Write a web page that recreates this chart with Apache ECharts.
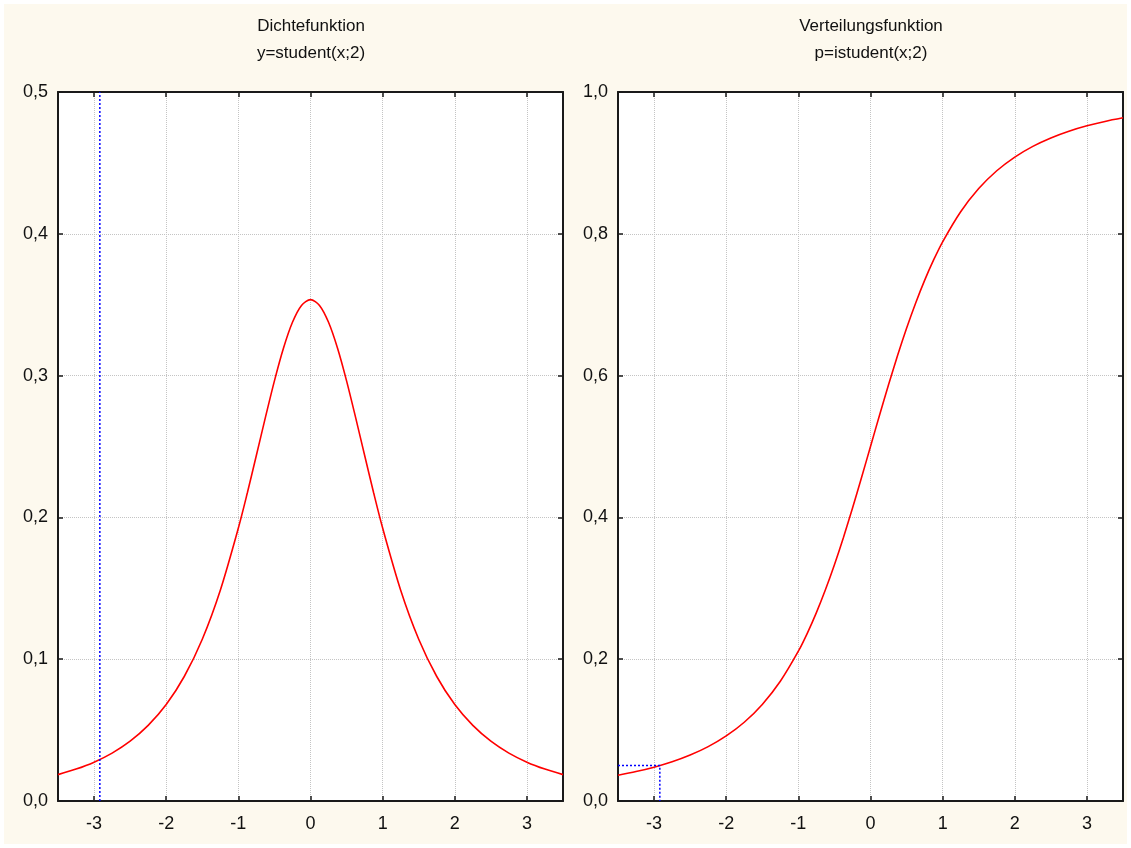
<!DOCTYPE html>
<html>
<head>
<meta charset="utf-8">
<script src="https://cdn.jsdelivr.net/npm/echarts@6/dist/echarts.min.js"></script>
<style>
  /* Seite */
  body { margin: 0; background: #fff; }
  #frame { position: absolute; left: 4px; top: 4px; width: 1123px; height: 840px; background: #fdf9ee; }
  #chart { position: absolute; left: 0; top: 0; width: 1131px; height: 848px; }
</style>
</head>
<body>
<div id="frame"></div>
<div id="chart"></div>
<script>
// x-Werte
var xValues = [-3.5, -3.25, -3, -2.75, -2.5, -2.25, -2, -1.75, -1.5, -1.25, -1, -0.875, -0.75, -0.625,
  -0.5, -0.375, -0.25, -0.125, 0, 0.125, 0.25, 0.375, 0.5, 0.625, 0.75, 0.875, 1,
  1.25, 1.5, 1.75, 2, 2.25, 2.5, 2.75, 3, 3.25, 3.5];
// Dichtefunktion y=student(x;2)
var densityValues = [0.0186, 0.0225, 0.0274, 0.0338, 0.0422, 0.0533, 0.0680, 0.0878, 0.1141, 0.1487,
  0.1925, 0.2174, 0.2438, 0.2705, 0.2963, 0.3193, 0.3376, 0.3495, 0.3536, 0.3495, 0.3376, 0.3193,
  0.2963, 0.2705, 0.2438, 0.2174, 0.1925, 0.1487, 0.1141, 0.0878, 0.0680, 0.0533, 0.0422, 0.0338,
  0.0274, 0.0225, 0.0186];
// Verteilungsfunktion p=istudent(x;2)
var cdfValues = [0.0364, 0.0415, 0.0477, 0.0553, 0.0648, 0.0767, 0.0918, 0.1111, 0.1362, 0.1689,
  0.2113, 0.2369, 0.2657, 0.2979, 0.3333, 0.3718, 0.4130, 0.4560, 0.5, 0.5440, 0.5870, 0.6282,
  0.6667, 0.7021, 0.7343, 0.7631, 0.7887, 0.8311, 0.8638, 0.8889, 0.9082, 0.9233, 0.9352, 0.9447,
  0.9523, 0.9585, 0.9636];
// kritischer Wert / alpha
var critX = -2.92;
var alpha = 0.05;
var xTicks = [-3, -2, -1, 0, 1, 2, 3];
var titlesLeft = ['Dichtefunktion', 'y=student(x;2)'];
var titlesRight = ['Verteilungsfunktion', 'p=istudent(x;2)'];

var titleFont = "17px 'Liberation Sans', Arial, sans-serif";
var labelFont = "'Liberation Sans', Arial, sans-serif";

function pairs(xs, ys) {
  return xs.map(function (x, i) { return [x, ys[i]]; });
}
function comma(v) {
  return v.toFixed(1).replace('.', ',');
}

function xAxis(gridIndex, position) {
  var bottom = position === 'bottom';
  return {
    type: 'value', gridIndex: gridIndex, position: position,
    min: -3.5, max: 3.5, interval: 1,
    axisLine: { show: true, onZero: false, lineStyle: { color: '#1a1a1a', width: 2 } },
    axisTick: { show: true, inside: true, length: 5, lineStyle: { color: '#1a1a1a', width: 1.5 },
      customValues: xTicks },
    axisLabel: { show: bottom, customValues: xTicks, margin: 14, color: '#111', fontSize: 18, fontFamily: labelFont },
    splitLine: { show: bottom, lineStyle: { color: '#c4c4c4', type: [1, 1], width: 1 } }
  };
}
function yAxis(gridIndex, position, max, interval) {
  var left = position === 'left';
  return {
    type: 'value', gridIndex: gridIndex, position: position,
    min: 0, max: max, interval: interval,
    axisLine: { show: true, onZero: false, lineStyle: { color: '#1a1a1a', width: 2 } },
    axisTick: { show: true, inside: true, length: 5, lineStyle: { color: '#1a1a1a', width: 1.5 } },
    axisLabel: { show: left, margin: 10, color: '#111', fontSize: 18, fontFamily: labelFont, formatter: comma },
    splitLine: { show: left, lineStyle: { color: '#c4c4c4', type: [1, 1], width: 1 } }
  };
}
function titleText(text, cx, cy) {
  return {
    type: 'text', x: cx, y: cy, silent: true,
    style: { text: text, font: titleFont, fill: '#111', align: 'center', verticalAlign: 'middle' }
  };
}

var chart = echarts.init(document.getElementById('chart'));
var option = {
  backgroundColor: 'transparent',
  animation: false,
  graphic: [
    titleText(titlesLeft[0], 311, 26), titleText(titlesLeft[1], 311, 53),
    titleText(titlesRight[0], 871, 26), titleText(titlesRight[1], 871, 53)
  ],
  grid: [
    { left: 58, right: 568, top: 92, bottom: 47, show: true, backgroundColor: '#fff', borderWidth: 0 },
    { left: 618, right: 8, top: 92, bottom: 47, show: true, backgroundColor: '#fff', borderWidth: 0 }
  ],
  xAxis: [xAxis(0, 'bottom'), xAxis(0, 'top'), xAxis(1, 'bottom'), xAxis(1, 'top')],
  yAxis: [yAxis(0, 'left', 0.5, 0.1), yAxis(0, 'right', 0.5, 0.1), yAxis(1, 'left', 1, 0.2), yAxis(1, 'right', 1, 0.2)],
  series: [
    {
      type: 'line', xAxisIndex: 0, yAxisIndex: 0, data: pairs(xValues, densityValues),
      smooth: 0.3, symbol: 'none', lineStyle: { color: '#ff0000', width: 1.6 }, z: 3
    },
    {
      type: 'line', xAxisIndex: 0, yAxisIndex: 0, data: [[critX, 0], [critX, 0.5]],
      symbol: 'none', lineStyle: { color: '#0000ff', width: 1.5, type: [2, 2] }, z: 4
    },
    {
      type: 'line', xAxisIndex: 2, yAxisIndex: 2, data: pairs(xValues, cdfValues),
      smooth: 0.3, symbol: 'none', lineStyle: { color: '#ff0000', width: 1.6 }, z: 3
    },
    {
      type: 'line', xAxisIndex: 2, yAxisIndex: 2, data: [[-3.5, alpha], [critX, alpha], [critX, 0]],
      symbol: 'none', lineStyle: { color: '#0000ff', width: 1.5, type: [2, 2] }, z: 4
    }
  ]
};
chart.setOption(option);
</script>
</body>
</html>
